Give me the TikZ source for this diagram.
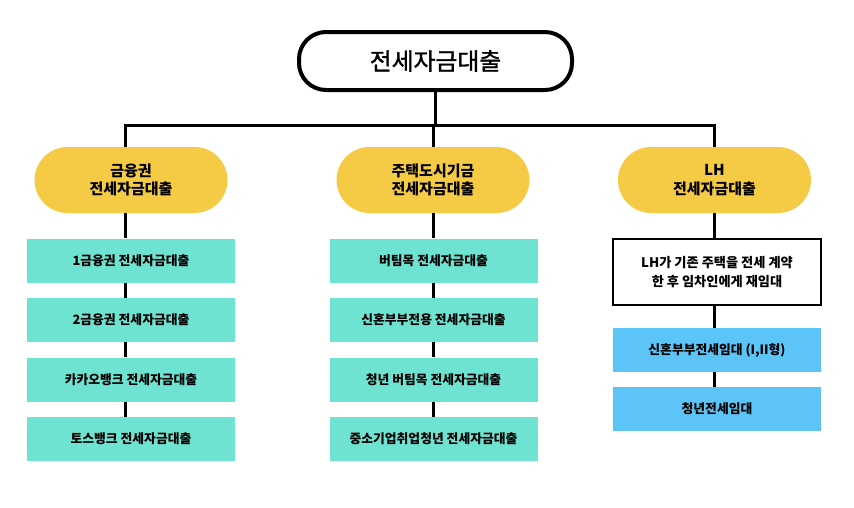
\documentclass[tikz,border=0pt]{standalone}
\usepackage{fontspec}
\setmainfont{Noto Sans CJK KR}
\newfontfamily\krmedium{Noto Sans CJK KR}[FakeBold=1.3]
\usepackage{xcolor}
\usepackage{tikz}
\usetikzlibrary{positioning}
\definecolor{pillyellow}{RGB}{245,203,69}
\definecolor{loanteal}{RGB}{111,227,209}
\definecolor{rentblue}{RGB}{92,196,246}
\tikzset{
    rootpill/.style={rectangle, rounded corners=27, draw=black, line width=4pt, fill=white, minimum width=273, minimum height=58, font=\fontsize{23.8}{28}\krmedium},
    grouppill/.style={rectangle, rounded corners=33, fill=pillyellow, minimum width=193, minimum height=66, align=center, font=\fontsize{15}{18.5}\selectfont\bfseries},
    loanbox/.style={rectangle, fill=#1, minimum width=208, minimum height=44, font=\fontsize{12.8}{15}\selectfont\bfseries},
    notebox/.style={rectangle, draw=black, line width=2.5pt, fill=white, minimum width=208, minimum height=66, align=center, font=\fontsize{13.2}{19.5}\selectfont\bfseries},
    conn/.style={draw=black, line width=3pt}
}

\begin{document}
\begin{tikzpicture}[x=1pt, y=-1pt]
    \useasboundingbox (0,0) rectangle (854,507);

    % Root
    \node[rootpill] (root) at (435.5, 61) {전세자금대출};
    \coordinate (bus) at (435.5, 125);

    % Groups
    \node[grouppill] (bank) at (131, 180) {금융권\\전세자금대출};
    \node[grouppill] (fund) at (433, 180) {주택도시기금\\전세자금대출};
    \node[grouppill] (lh) at (714.5, 180) {LH\\전세자금대출};

    % Bank loans
    \node[loanbox=loanteal] (bank1) at (131, 260.5) {1금융권 전세자금대출};
    \node[loanbox=loanteal] (bank2) at (131, 320) {2금융권 전세자금대출};
    \node[loanbox=loanteal] (bank3) at (131, 379.5) {카카오뱅크 전세자금대출};
    \node[loanbox=loanteal] (bank4) at (131, 439) {토스뱅크 전세자금대출};

    % Fund loans
    \node[loanbox=loanteal] (fund1) at (433.5, 260.5) {버팀목 전세자금대출};
    \node[loanbox=loanteal] (fund2) at (433.5, 320) {신혼부부전용 전세자금대출};
    \node[loanbox=loanteal] (fund3) at (433.5, 379.5) {청년 버팀목 전세자금대출};
    \node[loanbox=loanteal] (fund4) at (433.5, 439) {중소기업취업청년 전세자금대출};

    % LH rentals
    \node[notebox] (lhnote) at (717, 272) {LH가 기존 주택을 전세 계약\\한 후 임차인에게 재임대};
    \node[loanbox=rentblue] (lh1) at (717, 350) {신혼부부전세임대 (I,II형)};
    \node[loanbox=rentblue] (lh2) at (717, 409) {청년전세임대};

    % Tree lines
    \draw[conn] (root.south) -- (bus);
    \draw[conn] ([xshift=-6]bank.north) |- (lh.north |- bus) -- (lh.north);
    \draw[conn] (fund.north) -- (fund.north |- bus);

    % Column lines
    \draw[conn] ([xshift=-6]bank.south) -- ([xshift=-6]bank1.north);
    \draw[conn] ([xshift=-6]bank1.south) -- ([xshift=-6]bank2.north);
    \draw[conn] ([xshift=-6]bank2.south) -- ([xshift=-6]bank3.north);
    \draw[conn] ([xshift=-6]bank3.south) -- ([xshift=-6]bank4.north);
    \draw[conn] (fund.south) -- (fund1.north -| fund.south);
    \draw[conn] (fund1.south -| fund.south) -- (fund2.north -| fund.south);
    \draw[conn] (fund2.south -| fund.south) -- (fund3.north -| fund.south);
    \draw[conn] (fund3.south -| fund.south) -- (fund4.north -| fund.south);
    \draw[conn] (lh.south) -- (lhnote.north -| lh.south);
    \draw[conn] (lhnote.south -| lh.south) -- (lh1.north -| lh.south);
    \draw[conn] (lh1.south -| lh.south) -- (lh2.north -| lh.south);
\end{tikzpicture}
\end{document}
